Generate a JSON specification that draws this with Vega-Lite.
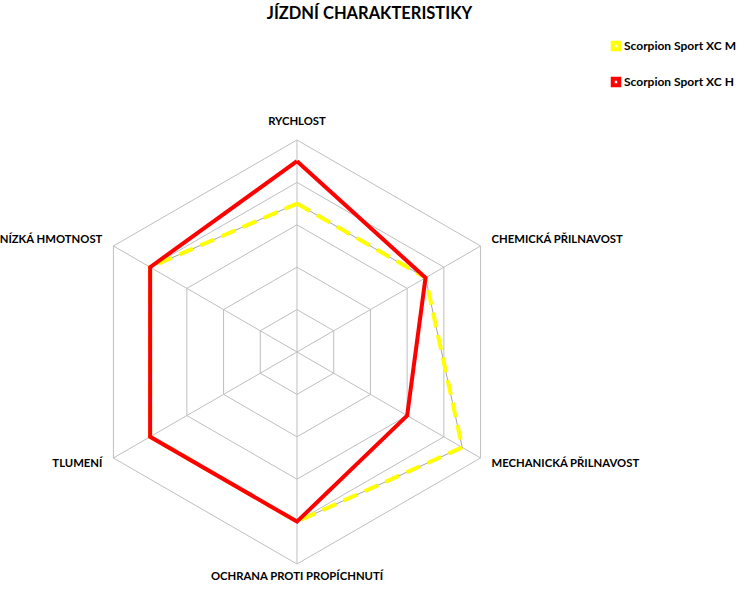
{
  "$schema": "https://vega.github.io/schema/vega-lite/v6.json",
  "width": 739,
  "height": 559,
  "autosize": {"type": "none"},
  "padding": {"top": 30, "left": 0, "right": 0, "bottom": 0},
  "background": "white",
  "title": {"text": "JÍZDNÍ CHARAKTERISTIKY", "font": "Lato", "fontSize": 16.5, "fontWeight": "bold", "color": "#000000", "anchor": "middle", "offset": 8, "frame": "group"},
  "config": {"view": {"stroke": null}},
  "datasets": {
    "axes": [
      {"axis": "RYCHLOST", "k": 0},
      {"axis": "CHEMICKÁ PŘILNAVOST", "k": 1},
      {"axis": "MECHANICKÁ PŘILNAVOST", "k": 2},
      {"axis": "OCHRANA PROTI PROPÍCHNUTÍ", "k": 3},
      {"axis": "TLUMENÍ", "k": 4},
      {"axis": "NÍZKÁ HMOTNOST", "k": 5}
    ],
    "rings": [
      {"ring": 1, "k": 0}, {"ring": 1, "k": 1}, {"ring": 1, "k": 2}, {"ring": 1, "k": 3}, {"ring": 1, "k": 4}, {"ring": 1, "k": 5}, {"ring": 1, "k": 6},
      {"ring": 2, "k": 0}, {"ring": 2, "k": 1}, {"ring": 2, "k": 2}, {"ring": 2, "k": 3}, {"ring": 2, "k": 4}, {"ring": 2, "k": 5}, {"ring": 2, "k": 6},
      {"ring": 3, "k": 0}, {"ring": 3, "k": 1}, {"ring": 3, "k": 2}, {"ring": 3, "k": 3}, {"ring": 3, "k": 4}, {"ring": 3, "k": 5}, {"ring": 3, "k": 6},
      {"ring": 4, "k": 0}, {"ring": 4, "k": 1}, {"ring": 4, "k": 2}, {"ring": 4, "k": 3}, {"ring": 4, "k": 4}, {"ring": 4, "k": 5}, {"ring": 4, "k": 6},
      {"ring": 5, "k": 0}, {"ring": 5, "k": 1}, {"ring": 5, "k": 2}, {"ring": 5, "k": 3}, {"ring": 5, "k": 4}, {"ring": 5, "k": 5}, {"ring": 5, "k": 6}
    ],
    "series": [
      {"series": "Scorpion Sport XC M", "axis": "RYCHLOST", "k": 0, "value": 3.5},
      {"series": "Scorpion Sport XC M", "axis": "CHEMICKÁ PŘILNAVOST", "k": 1, "value": 3.5},
      {"series": "Scorpion Sport XC M", "axis": "MECHANICKÁ PŘILNAVOST", "k": 2, "value": 4.5},
      {"series": "Scorpion Sport XC M", "axis": "OCHRANA PROTI PROPÍCHNUTÍ", "k": 3, "value": 4},
      {"series": "Scorpion Sport XC M", "axis": "TLUMENÍ", "k": 4, "value": 4},
      {"series": "Scorpion Sport XC M", "axis": "NÍZKÁ HMOTNOST", "k": 5, "value": 4},
      {"series": "Scorpion Sport XC M", "axis": "RYCHLOST", "k": 6, "value": 3.5},
      {"series": "Scorpion Sport XC H", "axis": "RYCHLOST", "k": 0, "value": 4.5},
      {"series": "Scorpion Sport XC H", "axis": "CHEMICKÁ PŘILNAVOST", "k": 1, "value": 3.5},
      {"series": "Scorpion Sport XC H", "axis": "MECHANICKÁ PŘILNAVOST", "k": 2, "value": 3},
      {"series": "Scorpion Sport XC H", "axis": "OCHRANA PROTI PROPÍCHNUTÍ", "k": 3, "value": 4},
      {"series": "Scorpion Sport XC H", "axis": "TLUMENÍ", "k": 4, "value": 4},
      {"series": "Scorpion Sport XC H", "axis": "NÍZKÁ HMOTNOST", "k": 5, "value": 4},
      {"series": "Scorpion Sport XC H", "axis": "RYCHLOST", "k": 6, "value": 4.5}
    ]
  },
  "layer": [
    {
      "data": {"name": "rings"},
      "transform": [
        {"calculate": "datum.k * PI / 3", "as": "a"},
        {"calculate": "datum.ring * sin(datum.a)", "as": "x"},
        {"calculate": "datum.ring * cos(datum.a)", "as": "y"}
      ],
      "mark": {"type": "line", "color": "#BFBFBF", "strokeWidth": 1},
      "encoding": {
        "x": {"field": "x", "type": "quantitative", "scale": {"domain": [-7.005, 10.425], "nice": false, "zero": false}, "axis": null},
        "y": {"field": "y", "type": "quantitative", "scale": {"domain": [-5.59, 7.594], "nice": false, "zero": false}, "axis": null},
        "detail": {"field": "ring"},
        "order": {"field": "k", "type": "quantitative"}
      }
    },
    {
      "data": {"name": "axes"},
      "transform": [
        {"calculate": "datum.k * PI / 3", "as": "a"},
        {"calculate": "5 * sin(datum.a)", "as": "x"},
        {"calculate": "5 * cos(datum.a)", "as": "y"}
      ],
      "mark": {"type": "rule", "color": "#BFBFBF", "strokeWidth": 1},
      "encoding": {
        "x": {"field": "x", "type": "quantitative"},
        "y": {"field": "y", "type": "quantitative"},
        "x2": {"datum": 0},
        "y2": {"datum": 0}
      }
    },
    {
      "data": {"name": "series"},
      "transform": [
        {"filter": "datum.series === 'Scorpion Sport XC M'"},
        {"calculate": "datum.k * PI / 3", "as": "a"},
        {"calculate": "datum.value * sin(datum.a)", "as": "x"},
        {"calculate": "datum.value * cos(datum.a)", "as": "y"}
      ],
      "mark": {"type": "line", "color": "#A6A6A6", "strokeWidth": 1},
      "encoding": {
        "x": {"field": "x", "type": "quantitative"},
        "y": {"field": "y", "type": "quantitative"},
        "order": {"field": "k", "type": "quantitative"}
      }
    },
    {
      "data": {"name": "series"},
      "transform": [
        {"filter": "datum.series === 'Scorpion Sport XC M'"},
        {"calculate": "datum.k * PI / 3", "as": "a"},
        {"calculate": "datum.value * sin(datum.a)", "as": "x"},
        {"calculate": "datum.value * cos(datum.a)", "as": "y"}
      ],
      "mark": {"type": "line", "strokeWidth": 4, "strokeDash": [15, 8]},
      "encoding": {
        "x": {"field": "x", "type": "quantitative"},
        "y": {"field": "y", "type": "quantitative"},
        "order": {"field": "k", "type": "quantitative"},
        "color": {
          "field": "series", "type": "nominal",
          "scale": {"domain": ["Scorpion Sport XC M", "Scorpion Sport XC H"], "range": ["#FFFF00", "#FF0000"]},
          "legend": {
            "title": null, "orient": "none", "legendX": 610, "legendY": 10,
            "symbolType": "square", "symbolSize": 42, "symbolStrokeWidth": 4, "symbolFillColor": "#FFFFFF",
            "labelFont": "Lato", "labelFontSize": 12, "labelFontWeight": "bold", "labelColor": "#000000",
            "labelOffset": 2, "rowPadding": 12
          }
        }
      }
    },
    {
      "data": {"name": "series"},
      "transform": [
        {"filter": "datum.series === 'Scorpion Sport XC H'"},
        {"calculate": "datum.k * PI / 3", "as": "a"},
        {"calculate": "datum.value * sin(datum.a)", "as": "x"},
        {"calculate": "datum.value * cos(datum.a)", "as": "y"}
      ],
      "mark": {"type": "line", "strokeWidth": 4},
      "encoding": {
        "x": {"field": "x", "type": "quantitative"},
        "y": {"field": "y", "type": "quantitative"},
        "order": {"field": "k", "type": "quantitative"},
        "color": {"field": "series", "type": "nominal"}
      }
    },
    {
      "data": {"name": "axes"},
      "transform": [
        {"filter": "datum.k === 0 || datum.k === 3"},
        {"calculate": "datum.k * PI / 3", "as": "a"},
        {"calculate": "5.3 * sin(datum.a)", "as": "x"},
        {"calculate": "5.3 * cos(datum.a) + (datum.k === 0 ? 0.12 : 0)", "as": "y"}
      ],
      "mark": {"type": "text", "align": "center", "baseline": "middle", "font": "Lato", "fontSize": 11.3, "fontWeight": "bold", "color": "#000000"},
      "encoding": {
        "x": {"field": "x", "type": "quantitative"},
        "y": {"field": "y", "type": "quantitative"},
        "text": {"field": "axis"}
      }
    },
    {
      "data": {"name": "axes"},
      "transform": [
        {"filter": "datum.k === 1 || datum.k === 2"},
        {"calculate": "datum.k * PI / 3", "as": "a"},
        {"calculate": "5.3 * sin(datum.a)", "as": "x"},
        {"calculate": "5.3 * cos(datum.a)", "as": "y"}
      ],
      "mark": {"type": "text", "align": "left", "baseline": "middle", "font": "Lato", "fontSize": 11.3, "fontWeight": "bold", "color": "#000000"},
      "encoding": {
        "x": {"field": "x", "type": "quantitative"},
        "y": {"field": "y", "type": "quantitative"},
        "text": {"field": "axis"}
      }
    },
    {
      "data": {"name": "axes"},
      "transform": [
        {"filter": "datum.k === 4 || datum.k === 5"},
        {"calculate": "datum.k * PI / 3", "as": "a"},
        {"calculate": "5.3 * sin(datum.a)", "as": "x"},
        {"calculate": "5.3 * cos(datum.a)", "as": "y"}
      ],
      "mark": {"type": "text", "align": "right", "baseline": "middle", "font": "Lato", "fontSize": 11.3, "fontWeight": "bold", "color": "#000000"},
      "encoding": {
        "x": {"field": "x", "type": "quantitative"},
        "y": {"field": "y", "type": "quantitative"},
        "text": {"field": "axis"}
      }
    }
  ]
}
